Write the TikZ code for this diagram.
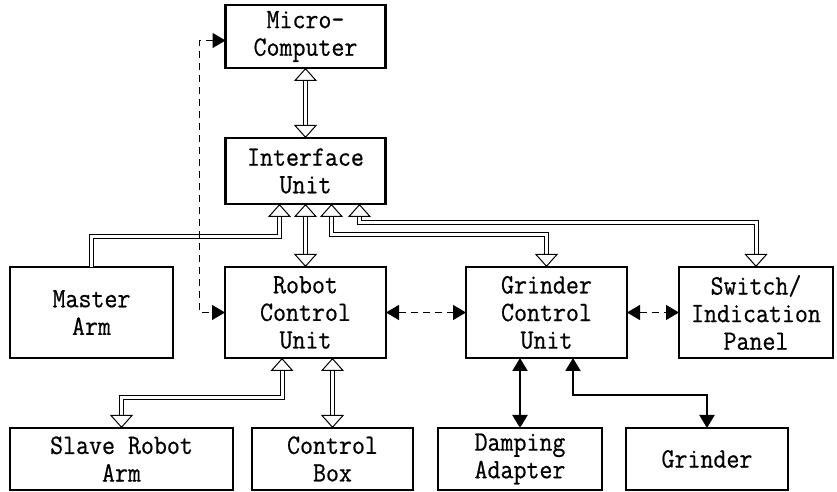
\documentclass[tikz,border=0pt]{standalone}
\usepackage{fontspec}
\newfontfamily\boxfont[FakeStretch=0.9,FakeBold=0.6]{Latin Modern Mono}
\usepackage{tikz}
\usetikzlibrary{arrows.meta}
\usetikzlibrary{positioning}

\begin{document}
\begin{tikzpicture}[
    outer sep=0pt,node distance=0cm, % boxes placed by border gaps
    mybox/.style={draw,line width=1.2pt,rectangle,align=center,inner sep=0pt,
                  font=\boxfont\fontsize{14}{13.8}\selectfont},
    Hollow/.tip={Triangle[open,width=11.5pt,length=6.5pt,line width=0.5pt]},
    Solid/.tip={Triangle[width=7.5pt,length=6.5pt]},
    pipe/.style={double,double distance=1.5pt,line width=0.5pt},
    wire/.style={line width=1pt,Solid-Solid},
    dashwire/.style={line width=0.6pt,dash pattern=on 3.5pt off 2.5pt,Solid-Solid},
    ]
    \useasboundingbox (0,0) rectangle (418.5pt,-246pt);

    \node (robot) at (152.75pt,-156.25pt)             [mybox,minimum width=80.5pt,minimum height=45.5pt] {Robot\\Control\\Unit};
    \node (master) [left=26pt of robot]               [mybox,minimum width=81.5pt,minimum height=45.5pt] {Master\\Arm};
    \node (grinderctl) [right=40pt of robot]          [mybox,minimum width=80.5pt,minimum height=45.5pt] {Grinder\\Control\\Unit};
    \node (panel) [right=26pt of grinderctl]          [mybox,minimum width=77pt,minimum height=45.5pt] {Switch/\\Indication\\Panel};

    \node (iface) [above=31.5pt of robot]             [mybox,minimum width=80pt,minimum height=33pt] {Interface\\Unit};
    \node (micro) [above=35pt of iface]               [mybox,minimum width=80pt,minimum height=31.5pt] {Micro-\\Computer};

    \node (slave) [below=35pt of master.south west,anchor=north west] [mybox,minimum width=111.5pt,minimum height=31pt] {Slave Robot\\Arm};
    \node (ctrlbox) [right=9.5pt of slave]            [mybox,minimum width=80.5pt,minimum height=31pt] {Control\\Box};
    \node (damper) [right=12.5pt of ctrlbox]          [mybox,minimum width=82pt,minimum height=31pt] {Damping\\Adapter};
    \node (grinder) [right=12pt of damper]            [mybox,minimum width=81pt,minimum height=31pt] {Grinder};

    % hollow (data) links
    \draw [pipe,Hollow-Hollow] (micro.south) -- (iface.north);
    \draw [pipe,Hollow-Hollow] (iface.south) -- (iface.south |- robot.north);
    \draw [pipe,-Hollow] (master.north) |- ([xshift=-13pt,yshift=-16.5pt]iface.south) -- ([xshift=-13pt]iface.south);
    \draw [pipe,Hollow-Hollow] ([xshift=13pt]iface.south) |- ++(0,-15.5pt) -| (grinderctl.north);
    \draw [pipe,Hollow-Hollow] ([xshift=27pt]iface.south) |- ++(0,-9.5pt) -| (panel.north);
    \draw [pipe,Hollow-Hollow] ([xshift=-11.75pt]robot.south) |- ++(0,-20pt) -| (slave.north);
    \draw [pipe,Hollow-Hollow] (ctrlbox.north |- robot.south) -- (ctrlbox.north);

    % dashed links
    \draw [dashwire] ([yshift=-2pt]micro.west) -- ++(-13pt,0) |- (robot.west);
    \draw [dashwire] (robot.east) -- (grinderctl.west);
    \draw [dashwire] (grinderctl.east) -- (panel.west);

    % solid links
    \draw [wire] (damper.north |- grinderctl.south) -- (damper.north);
    \draw [wire] ([xshift=13.25pt]grinderctl.south) |- ++(0,-18.5pt) -| (grinder.north);
\end{tikzpicture}
\end{document}
